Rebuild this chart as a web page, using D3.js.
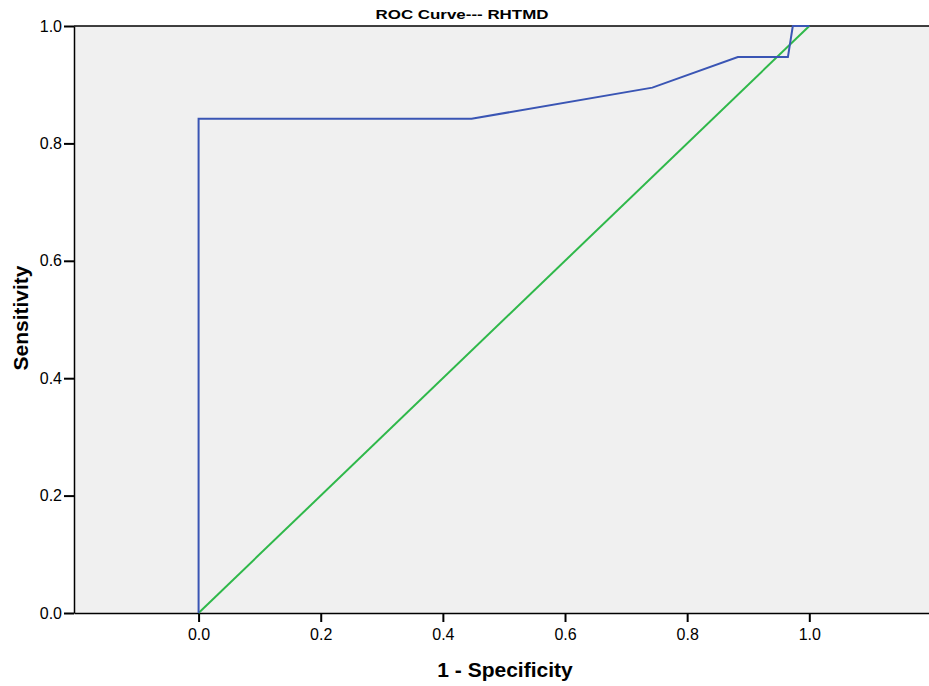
<!DOCTYPE html>
<html>
<head>
<meta charset="utf-8">
<script src="https://cdn.jsdelivr.net/npm/d3@7"></script>
<style>
  body { margin: 0; background: #fff; }
  svg text { font-family: "Liberation Sans", Arial, sans-serif; }
</style>
</head>
<body>
<div id="chart"></div>
<script>
// ROC curve points (1 - specificity, sensitivity)
const rocFpr = [0, 0, 0.447, 0.743, 0.883, 0.965, 0.973, 1.0]
const rocTpr = [0, 0.842, 0.842, 0.895, 0.947, 0.947, 1.0, 1.0]

// reference line
const refFpr = [0, 1]
const refTpr = [0, 1]

const xTicks = [0.0, 0.2, 0.4, 0.6, 0.8, 1.0]
const yTicks = [0.0, 0.2, 0.4, 0.6, 0.8, 1.0]

const title = 'ROC Curve--- RHTMD'
const xLabel = '1 - Specificity'
const yLabel = 'Sensitivity'

const W = 929
const H = 686
const p_left = 74
const p_right = 929
const p_top = 26
const p_bottom = 613

const c_blue = '#3a55b4'
const c_green = '#2fb84a'

const svg = d3.select('#chart')
  .append('svg')
  .attr('width', W)
  .attr('height', H)

const x = d3.scaleLinear().domain([-0.204, 1.196]).range([p_left, p_right])
const y = d3.scaleLinear().domain([0, 1]).range([p_bottom, p_top])

// plot background
svg.append('rect')
  .attr('x', p_left)
  .attr('y', p_top)
  .attr('width', p_right - p_left)
  .attr('height', p_bottom - p_top)
  .attr('fill', '#f0f0f0')

// top border
svg.append('line')
  .attr('x1', p_left).attr('x2', p_right)
  .attr('y1', p_top).attr('y2', p_top)
  .attr('stroke', '#000').attr('stroke-width', 1.5)

const fmt = d3.format('.1f')

// axes
const xAxis = d3.axisBottom(x).tickValues(xTicks).tickFormat(fmt)
  .tickSizeOuter(0).tickSizeInner(9).tickPadding(7)
const yAxis = d3.axisLeft(y).tickValues(yTicks).tickFormat(fmt)
  .tickSizeOuter(0).tickSizeInner(10).tickPadding(2)

function styleAxis (g) {
  g.select('.domain').attr('stroke', '#000').attr('stroke-width', 1.5)
  g.selectAll('.tick line').attr('stroke', '#000').attr('stroke-width', 2)
  g.selectAll('text')
    .attr('fill', '#000')
    .style('font-size', '16px')
    .style('font-family', '"Liberation Sans", Arial, sans-serif')
}

svg.append('g')
  .attr('transform', `translate(0,${p_bottom})`)
  .call(xAxis)
  .call(styleAxis)

svg.append('g')
  .attr('transform', `translate(${p_left},0)`)
  .call(yAxis)
  .call(styleAxis)

// lines
const line = d3.line()
  .x((d) => x(d[0]))
  .y((d) => y(d[1]))

svg.append('path')
  .datum(refFpr.map((v, i) => [v, refTpr[i]]))
  .attr('d', line)
  .attr('fill', 'none')
  .attr('stroke', c_green)
  .attr('stroke-width', 2)

svg.append('path')
  .datum(rocFpr.map((v, i) => [v, rocTpr[i]]))
  .attr('d', line)
  .attr('fill', 'none')
  .attr('stroke', c_blue)
  .attr('stroke-width', 2)

// titles
svg.append('text')
  .text(title)
  .attr('x', 462)
  .attr('y', 19)
  .attr('text-anchor', 'middle')
  .attr('textLength', 173)
  .attr('lengthAdjust', 'spacingAndGlyphs')
  .style('font-size', '13px')
  .style('font-weight', 'bold')

svg.append('text')
  .text(xLabel)
  .attr('x', 505)
  .attr('y', 677)
  .attr('text-anchor', 'middle')
  .style('font-size', '21px')
  .style('font-weight', 'bold')

svg.append('text')
  .text(yLabel)
  .attr('transform', 'translate(28,318) rotate(-90)')
  .attr('text-anchor', 'middle')
  .style('font-size', '21px')
  .style('font-weight', 'bold')
</script>
</body>
</html>
